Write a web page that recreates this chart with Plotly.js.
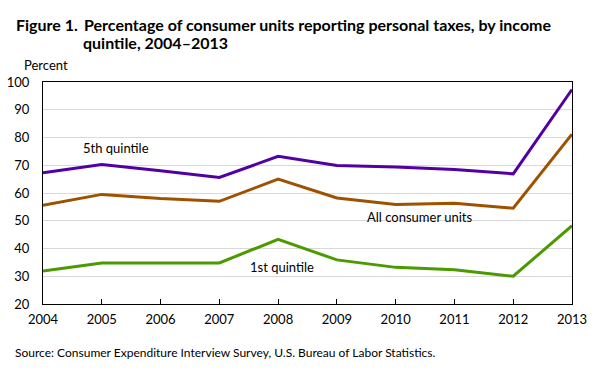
<!DOCTYPE html>
<html><head><meta charset="utf-8">
<script src="https://cdn.plot.ly/plotly-3.0.1.min.js"></script>
<style>html,body{margin:0;padding:0;background:#fff}#chart{width:604px;height:379px}</style>
</head><body><div id="chart"></div>
<script>
const years = [2004,2005,2006,2007,2008,2009,2010,2011,2012,2013];
const fifthQuintile = [67.3,70.3,68.0,65.6,73.2,69.9,69.4,68.5,66.9,97.3];
const allUnits = [55.6,59.5,58.0,57.0,65.0,58.2,55.9,56.3,54.5,81.2];
const firstQuintile = [31.9,34.8,34.8,34.8,43.3,35.9,33.2,32.3,30.0,48.2];
const yTicks = [20,30,40,50,60,70,80,90,100];

const F = 'Lato, "Open Sans", Arial, sans-serif';
const PL = 43.3, PW = 529, PB = 304, PH = 222;
const px = v => (v - PL) / PW;
const py = v => (PB - v) / PH;
const mk = (y, c, n) => ({x: years, y: y, type: 'scatter', mode: 'lines', name: n,
  line: {color: c, width: 3}, hoverinfo: 'skip'});
const data = [
  mk(fifthQuintile, '#5200a3', '5th quintile'),
  mk(allUnits, '#9e5200', 'All consumer units'),
  mk(firstQuintile, '#4a9a00', '1st quintile')
];
const layout = {
  width: 604, height: 379,
  margin: {l: 43, r: 32, t: 82, b: 75},
  paper_bgcolor: '#fff', plot_bgcolor: '#fff',
  showlegend: false,
  font: {family: F, size: 13, color: '#000'},
  xaxis: {range: [2004, 2013], tickvals: years, ticktext: years.map(String),
    ticks: 'inside', ticklen: 5, tickcolor: '#000', showgrid: false, zeroline: false,
    showline: true, linecolor: '#000', linewidth: 1, mirror: true,
    ticklabelstandoff: 3,
    tickfont: {family: F, size: 13}},
  yaxis: {range: [20, 100], tickvals: yTicks, ticks: '', showgrid: true,
    gridcolor: '#d9d9d9', gridwidth: 1, zeroline: false,
    showline: true, linecolor: '#000', linewidth: 1, mirror: true,
    ticklabelstandoff: 10,
    tickfont: {family: F, size: 13}},
  annotations: [
    {xref: 'paper', yref: 'paper', x: px(14), y: py(25), xanchor: 'left', yanchor: 'middle',
     text: '<b>Figure 1.</b>', showarrow: false, font: {family: F, size: 16}},
    {xref: 'paper', yref: 'paper', x: px(82), y: py(25), xanchor: 'left', yanchor: 'middle',
     text: '<b>Percentage of consumer units reporting personal taxes, by income</b>', showarrow: false, font: {family: F, size: 16}},
    {xref: 'paper', yref: 'paper', x: px(81), y: py(42), xanchor: 'left', yanchor: 'middle',
     text: '<b>quintile, 2004–2013</b>', showarrow: false, font: {family: F, size: 16}},
    {xref: 'paper', yref: 'paper', x: px(22), y: py(65), xanchor: 'left', yanchor: 'middle',
     text: 'Percent', showarrow: false, font: {family: F, size: 13}},
    {xref: 'paper', yref: 'paper', x: px(13), y: py(352), xanchor: 'left', yanchor: 'middle',
     text: 'Source: Consumer Expenditure Interview Survey, U.S. Bureau of Labor Statistics.', showarrow: false, font: {family: F, size: 12}},
    {x: 2005.25, y: 76.2, text: '5th quintile', showarrow: false, font: {family: F, size: 13}},
    {x: 2010.4, y: 51.3, text: 'All consumer units', showarrow: false, font: {family: F, size: 13}},
    {x: 2008.06, y: 33.3, text: '1st quintile', showarrow: false, font: {family: F, size: 13}}
  ]
};
Plotly.newPlot('chart', data, layout, {staticPlot: true, displayModeBar: false});
</script></body></html>
